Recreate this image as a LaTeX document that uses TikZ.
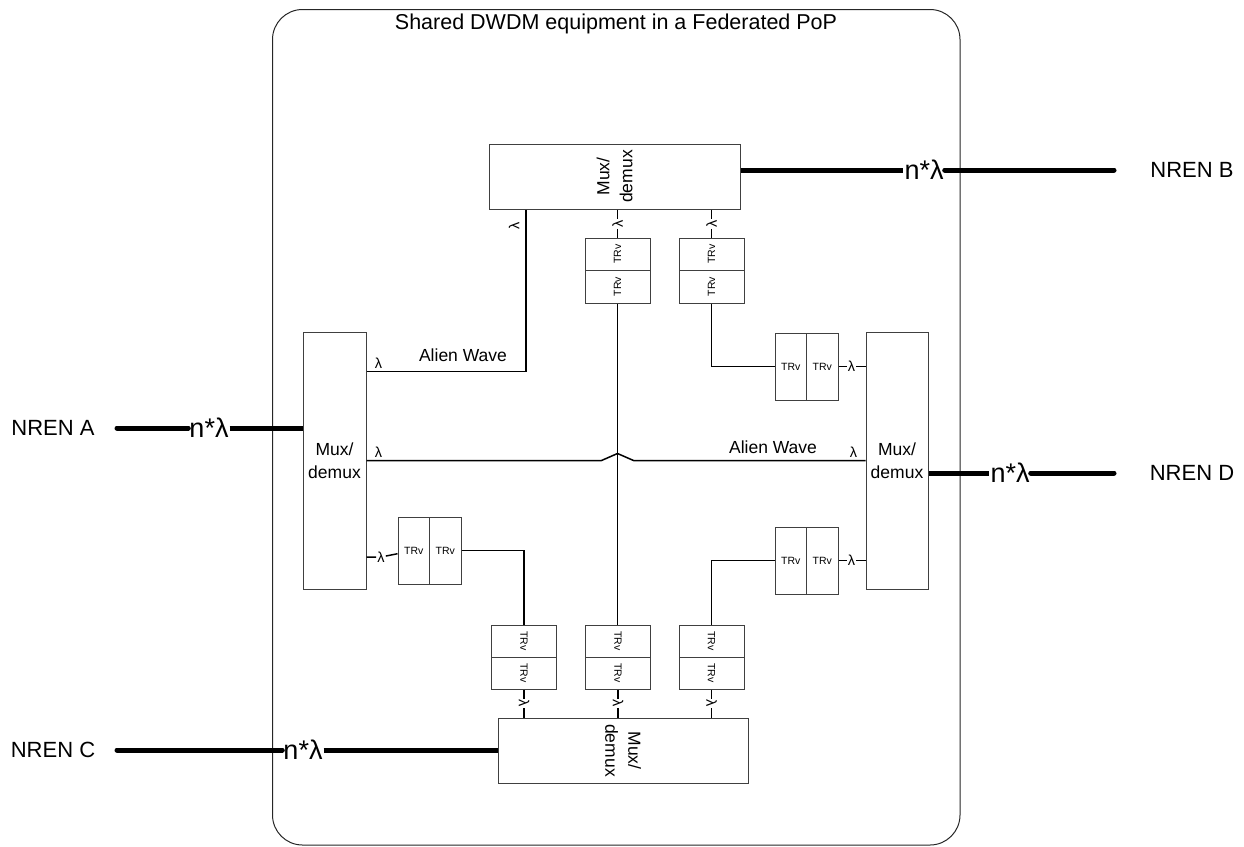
\documentclass[tikz,border=0pt]{standalone}
\usepackage{fontspec}
\setmainfont{Liberation Sans}
\usetikzlibrary{calc}
\begin{document}
\begin{tikzpicture}[x=1pt,y=-1pt,
  frame/.style={draw=black!85,line width=1pt,rounded corners=30pt},
  titletxt/.style={font=\fontsize{21.5}{24}\selectfont,inner sep=0pt},
  nren/.style={font=\fontsize{22}{24}\selectfont,inner sep=0pt},
  nl/.style={font=\fontsize{27}{30}\selectfont,inner sep=1pt},
  muxbox/.style={draw=black!75,line width=1pt,inner sep=0pt},
  muxtxt/.style={align=center,font=\fontsize{17.5}{23}\selectfont,inner sep=0pt},
  trvbox/.style={draw=black!75,line width=1pt,inner sep=0pt},
  trvtxt/.style={font=\fontsize{10.5}{12}\selectfont,inner sep=0pt},
  lam/.style={font=\fontsize{14.5}{16}\selectfont,inner sep=1pt},
  awtxt/.style={font=\fontsize{17.5}{20}\selectfont,inner sep=0pt},
  wire/.style={line width=1.5pt},
  trunk/.style={line width=5pt}
]
\useasboundingbox (0,0) rectangle (1244,846);
\draw[frame] (272.5,9.5) rectangle (960,845);
\node[titletxt] (title) at (616,24) {Shared DWDM equipment in a Federated PoP};

% Mux/demux units
\node[muxbox,minimum width=251pt,minimum height=65pt] (mB) at (614.5,176.5) {};
\node[muxtxt,rotate=90] (mBt) at (mB) {Mux/\\demux};
\node[muxbox,minimum width=63pt,minimum height=257pt] (mA) at (334.5,460.5) {};
\node[muxtxt] (mAt) at (mA) {Mux/\\demux};
\node[muxbox,minimum width=62pt,minimum height=257pt] (mD) at (897,460.5) {};
\node[muxtxt] (mDt) at (mD) {Mux/\\demux};
\node[muxbox,minimum width=250pt,minimum height=65pt] (mC) at (623,750.5) {};
\node[muxtxt,rotate=-90] (mCt) at (mC) {Mux/\\demux};

% Transceivers, top (vertical pairs)
\node[trvbox,minimum width=65pt,minimum height=32.5pt] (T1a) at (617.5,254.25) {};
\node[trvbox,minimum width=65pt,minimum height=32.5pt] (T1b) at (617.5,286.75) {};
\node[trvbox,minimum width=65pt,minimum height=32.5pt] (T2a) at (711.5,254.25) {};
\node[trvbox,minimum width=65pt,minimum height=32.5pt] (T2b) at (711.5,286.75) {};
% bottom
\node[trvbox,minimum width=65pt,minimum height=32pt] (B1a) at (524,641) {};
\node[trvbox,minimum width=65pt,minimum height=32pt] (B1b) at (524,673) {};
\node[trvbox,minimum width=65pt,minimum height=32pt] (B2a) at (618,641) {};
\node[trvbox,minimum width=65pt,minimum height=32pt] (B2b) at (618,673) {};
\node[trvbox,minimum width=65pt,minimum height=32pt] (B3a) at (711.5,641) {};
\node[trvbox,minimum width=65pt,minimum height=32pt] (B3b) at (711.5,673) {};
% horizontal pairs
\node[trvbox,minimum width=31.5pt,minimum height=67pt] (L1a) at (413.75,550.5) {};
\node[trvbox,minimum width=31.5pt,minimum height=67pt] (L1b) at (445.25,550.5) {};
\node[trvbox,minimum width=31.5pt,minimum height=67pt] (R1a) at (790.75,366.5) {};
\node[trvbox,minimum width=31.5pt,minimum height=67pt] (R1b) at (822.25,366.5) {};
\node[trvbox,minimum width=31.5pt,minimum height=67pt] (R2a) at (790.75,560.5) {};
\node[trvbox,minimum width=31.5pt,minimum height=67pt] (R2b) at (822.25,560.5) {};

\foreach \n in {T1a,T1b,T2a,T2b} \node[trvtxt,rotate=90] (\n t) at (\n) {TRv};
\foreach \n in {B1a,B1b,B2a,B2b,B3a,B3b} \node[trvtxt,rotate=-90] (\n t) at (\n) {TRv};
\foreach \n in {L1a,L1b,R1a,R1b,R2a,R2b} \node[trvtxt] (\n t) at (\n) {TRv};

% lambda links, top
\node[lam,rotate=90] (lT1) at (617.5,224) {λ};
\node[lam,rotate=90] (lT2) at (711.5,224) {λ};
\draw[wire] (mB.south -| lT1) -- (lT1) -- (T1a);
\draw[wire] (mB.south -| lT2) -- (lT2) -- (T2a);
% bottom
\node[lam,rotate=-90] (lB1) at (524,703.5) {λ};
\node[lam,rotate=-90] (lB2) at (618,703.5) {λ};
\node[lam,rotate=-90] (lB3) at (711.5,703.5) {λ};
\draw[wire] (B1b) -- (lB1) -- (lB1 |- mC.north);
\draw[wire] (B2b) -- (lB2) -- (lB2 |- mC.north);
\draw[wire] (B3b) -- (lB3) -- (lB3 |- mC.north);
% left / right
\node[lam] (lL1) at (381,557) {λ};
\draw[wire] (mA.east |- lL1) -- (lL1) -- (L1a);
\node[lam] (lR1) at (851.5,366.5) {λ};
\draw[wire] (R1b) -- (lR1) -- (lR1 -| mD.west);
\node[lam] (lR2) at (851.5,560.5) {λ};
\draw[wire] (R2b) -- (lR2) -- (lR2 -| mD.west);

% transceiver interconnections
\draw[wire] (T1b.south) -- (T1b.south |- B2a.north);
\draw[wire] (T2b.south) |- (R1a.west);
\draw[wire] (R2a.west) -| (B3a.north);
\draw[wire] (L1b.east) -| (B1a.north);

% alien wave A-B
\coordinate (aw1) at (526,371.5);
\draw[wire] (mA.east |- aw1) -- (aw1) -- (aw1 |- mB.south);
\node[lam] (lAw1) at (378.5,363) {λ};
\node[lam,rotate=90] (lBw1) at (514,226) {λ};
\node[awtxt] (awt1) at (463,355) {Alien Wave};

% alien wave A-D with hop
\draw[wire] (mA.east) -- ($(T1b.south |- mA.east)+(-16,0)$) -- ($(T1b.south |- mA.east)+(0,-7)$) -- ($(T1b.south |- mA.east)+(16,0)$) -- (mD.west);
\node[lam] (lAw2) at (378.5,452) {λ};
\node[lam] (lDw2) at (853.5,452) {λ};
\node[awtxt] (awt2) at (773,447) {Alien Wave};

% trunks
\node[nren] (nrA) at (53,428) {NREN A};
\coordinate (endA) at (117,428);
\node[nl] (nlA) at (209,428) {n*λ};
\draw[trunk,line cap=round] (endA) -- (nlA);
\draw[trunk] (nlA) -- (mA.west |- nlA);

\node[nren] (nrB) at (1192,170) {NREN B};
\coordinate (endB) at (1114,170);
\node[nl] (nlB) at (924,170) {n*λ};
\draw[trunk] (mB.east |- nlB) -- (nlB);
\draw[trunk,line cap=round] (nlB) -- (endB);

\node[nren] (nrC) at (53,750) {NREN C};
\coordinate (endC) at (117,750);
\node[nl] (nlC) at (303,750) {n*λ};
\draw[trunk,line cap=round] (endC) -- (nlC);
\draw[trunk] (nlC) -- (mC.west |- nlC);

\node[nren] (nrD) at (1192,473) {NREN D};
\coordinate (endD) at (1114,473);
\node[nl] (nlD) at (1010,473) {n*λ};
\draw[trunk] (mD.east |- nlD) -- (nlD);
\draw[trunk,line cap=round] (nlD) -- (endD);
\end{tikzpicture}
\end{document}
